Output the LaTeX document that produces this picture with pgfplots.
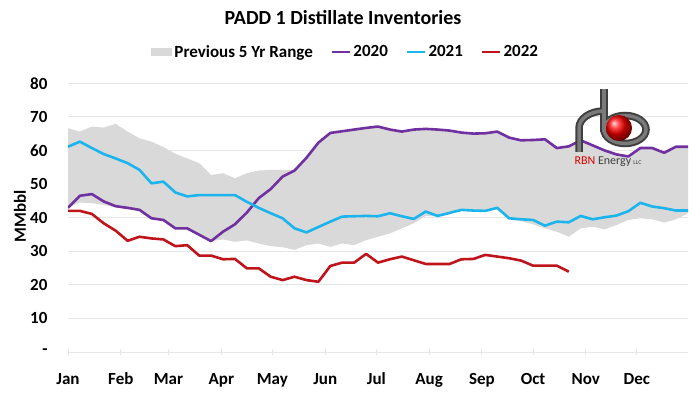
\documentclass[border=0pt]{standalone}
\usepackage{fontspec}
\setmainfont{Carlito}
\usepackage{pgfplots}
\pgfplotsset{compat=1.18}
\usepackage{pgfplotstable}
\usepgfplotslibrary{fillbetween}
\definecolor{c20}{HTML}{7030A0}
\definecolor{c21}{HTML}{1CB4EC}
\definecolor{c22}{HTML}{C0141C}
\definecolor{band}{HTML}{D9D9D9}
\definecolor{gridc}{HTML}{E6E6E6}
\definecolor{pipe}{HTML}{3F3F3F}
\definecolor{pipein}{HTML}{7A7A7A}

\pgfplotstableread{
w  up    lo    p20   b21
0  66.6  42.9  42.9  61.1
1  65.6  44.5  46.5  62.6
2  67.1  44.3  47.0  60.7
3  66.8  43.8  44.8  58.9
4  67.9  43.0  43.4  57.6
5  65.6  42.5  42.9  56.2
6  63.6  42.0  42.3  54.2
7  62.6  39.5  39.8  50.2
8  61.0  39.0  39.3  50.7
9  59.0  36.5  36.8  47.5
10 57.6  36.5  36.8  46.3
11 56.2  34.6  34.9  46.7
12 52.7  33.0  33.0  46.7
13 53.2  33.5  35.8  46.7
14 51.7  32.8  38.0  46.7
15 53.2  33.2  41.5  44.7
16 54.0  32.3  45.8  42.9
17 54.2  31.5  48.5  41.3
18 54.2  31.2  52.2  39.8
19 54.2  30.4  54.0  36.8
20 57.8  31.8  57.8  35.6
21 62.3  32.3  62.3  37.2
22 65.2  31.3  65.2  38.8
23 65.7  32.3  65.7  40.3
24 66.2  31.8  66.2  40.4
25 66.7  33.3  66.7  40.5
26 67.1  34.3  67.1  40.4
27 66.2  35.3  66.2  41.3
28 65.6  36.8  65.6  40.4
29 66.2  38.3  66.2  39.6
30 66.4  40.5  66.4  41.8
31 66.2  40.3  66.2  40.5
32 65.9  41.2  65.9  41.4
33 65.3  42.0  65.3  42.3
34 65.0  41.8  65.0  42.1
35 65.1  41.8  65.1  42.0
36 65.6  42.6  65.6  42.9
37 63.8  39.5  63.8  39.8
38 63.0  38.9  63.0  39.5
39 63.1  38.0  63.1  39.3
40 63.3  36.8  63.3  37.6
41 60.7  35.8  60.7  38.8
42 61.2  34.3  61.2  38.6
43 63.0  36.8  63.0  40.5
44 61.5  37.3  61.5  39.5
45 60.0  36.5  60.0  40.1
46 58.8  37.8  58.8  40.6
47 58.2  39.3  58.2  41.9
48 60.7  39.8  60.7  44.4
49 60.7  39.5  60.7  43.3
50 59.3  38.5  59.3  42.8
51 61.1  39.5  61.1  42.1
52 61.1  41.3  61.1  42.1
}\tabmain

\pgfplotstableread{
w  r22
0  42.0
1  42.0
2  41.1
3  38.3
4  36.1
5  33.1
6  34.3
7  33.8
8  33.5
9  31.5
10 31.8
11 28.7
12 28.7
13 27.6
14 27.7
15 24.9
16 24.9
17 22.4
18 21.4
19 22.4
20 21.4
21 20.9
22 25.6
23 26.6
24 26.6
25 29.2
26 26.6
27 27.6
28 28.4
29 27.3
30 26.2
31 26.2
32 26.2
33 27.6
34 27.7
35 28.9
36 28.4
37 27.9
38 27.2
39 25.7
40 25.7
41 25.7
42 23.9
}\tabred

\begin{document}
\begin{tikzpicture}[x=1pt,y=1pt]
\begin{axis}[
  at={(68pt,42pt)}, anchor=south west,
  width=620pt, height=268.8pt, scale only axis,
  xmin=0, xmax=52, ymin=0, ymax=80,
  axis line style={draw=none},
  ymajorgrids, grid style={gridc, line width=0.9pt},
  ytick={0,10,...,80},
  yticklabels={-\hspace{6pt},10,20,30,40,50,60,70,80},
  ytick style={draw=none},
  xtick={0,4.43,8.43,12.86,17.14,21.57,25.86,30.29,34.71,39,43.43,47.71},
  xticklabels={Jan,Feb,Mar,Apr,May,Jun,Jul,Aug,Sep,Oct,Nov,Dec},
  xtick pos=left, tick align=center,
  xtick style={gridc, line width=0.9pt},
  major tick length=6pt,
  /pgf/number format/assume math mode=true,
  tick label style={font=\bfseries\fontsize{17}{17}\selectfont, black},
  yticklabel style={anchor=east, xshift=-14pt},
  xticklabel style={anchor=base, yshift=-29pt},
  ylabel={MMbbl},
  ylabel style={at={(axis description cs:-0.0774,0.506)}, anchor=center, font=\bfseries\fontsize{17}{17}\selectfont},
  legend columns=4,
  legend style={at={(0.448,1.116)}, anchor=center, draw=none, fill=none,
    font=\bfseries\fontsize{17}{17}\selectfont,
    /tikz/every even column/.append style={column sep=16pt},
    /tikz/every odd column/.append style={column sep=0pt},
    inner sep=0pt},
  legend cell align=left,
]
\addplot[name path=up, draw=none, forget plot] table[x=w,y=up] {\tabmain};
\addplot[name path=lo, draw=none, forget plot] table[x=w,y=lo] {\tabmain};
\addplot[fill=band, draw=none,
  legend image code/.code={\fill[band] (0pt,-4pt) rectangle (21pt,4pt);}]
  fill between[of=up and lo];
\addlegendentry{Previous 5 Yr Range}
\addplot[c20, line width=2.6pt, line join=round,
  legend image code/.code={\draw[c20,line width=2.6pt] (0pt,0pt) -- (18pt,0pt);}]
  table[x=w,y=p20] {\tabmain};
\addlegendentry{2020}
\addplot[c21, line width=2.6pt, line join=round,
  legend image code/.code={\draw[c21,line width=2.6pt] (0pt,0pt) -- (18pt,0pt);}]
  table[x=w,y=b21] {\tabmain};
\addlegendentry{2021}
\addplot[c22, line width=2.6pt, line join=round,
  legend image code/.code={\draw[c22,line width=2.6pt] (0pt,0pt) -- (18pt,0pt);}]
  table[x=w,y=r22] {\tabred};
\addlegendentry{2022}
\end{axis}
% title
\node[font=\bfseries\fontsize{20}{20}\selectfont] at (343,376) {PADD 1 Distillate Inventories};
% logo
\foreach \lw/\col in {7.5pt/pipe, 3.5pt/pipein}{
  \draw[\col, line width=\lw] (604,305) -- (604,262);
  \draw[\col, line width=\lw] (625,264.5) ellipse [x radius=21, y radius=14];
  \draw[\col, line width=\lw, line cap=butt] (579,242) -- (579,266) arc[start angle=180, end angle=90, x radius=25, y radius=17];
}
\shade[ball color=red] (619,266) circle (13);
\node[font=\fontsize{12}{12}\selectfont] at (608,232) {\textcolor{red!85!black}{RBN} \textcolor{pipe}{Energy}\,\textcolor{pipe}{\fontsize{6}{6}\selectfont LLC}};
\pgfresetboundingbox
\path (0,0) rectangle (700,394);
\end{tikzpicture}
\end{document}
